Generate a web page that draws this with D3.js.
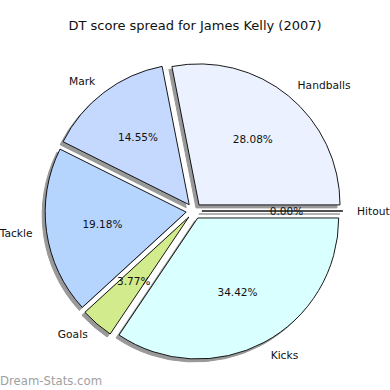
<!DOCTYPE html>
<html><head><meta charset="utf-8">
<script src="https://cdn.jsdelivr.net/npm/d3@7"></script>
<style>body{margin:0;background:#fff}svg{display:block}text{font-family:"DejaVu Sans",sans-serif}</style>
</head><body><svg id="c" width="390" height="390"></svg>
<script>
const categories = ["Handballs","Mark","Tackle","Goals","Kicks","Hitout"];
const values = [28.08,14.55,19.18,3.77,34.42,0.00];
const colors = ["#EBF1FF","#C5D9FF","#B5D5FF","#D1EB8D","#D9FFFF","#FFFFFF"];
const title = "DT score spread for James Kelly (2007)";

const svg = d3.select("#c");
const cx = 194, cy = 211, R = 141, explode = 0.056 * R;
const shadowDx = -3, shadowDy = 3;

const pie = d3.pie().sort(null).value(d => d).startAngle(Math.PI/2).endAngle(Math.PI/2 - 2*Math.PI);
const arcs = pie(values);
const arc = d3.arc().innerRadius(0).outerRadius(R);

svg.append("text").attr("x", 195).attr("y", 30).attr("text-anchor","middle")
  .attr("font-size", 13).attr("fill","#111").text(title);

const g = svg.append("g").attr("transform", `translate(${cx},${cy})`);

const items = arcs.map((a,i) => {
  const mid = (a.startAngle + a.endAngle)/2;
  return {a, i, mid, ox: explode*Math.sin(mid), oy: -explode*Math.cos(mid)};
});

items.forEach(it => {
  const grp = g.append("g").attr("transform", `translate(${it.ox},${it.oy})`);
  grp.append("path").attr("d", arc(it.a)).attr("transform", `translate(${shadowDx},${shadowDy})`)
    .attr("fill", "#999").attr("stroke", "#999").attr("stroke-width", 1);
  grp.append("path").attr("d", arc(it.a)).attr("fill", colors[it.i])
    .attr("stroke", "#000").attr("stroke-width", 0.9).attr("stroke-linejoin","round");
});

items.forEach(it => {
  const c = Math.sin(it.mid), s = -Math.cos(it.mid);
  const lx = it.ox + 1.1*R*c, ly = it.oy + 1.1*R*s;
  g.append("text").attr("x", lx).attr("y", ly).attr("dy","0.35em")
    .attr("text-anchor", c >= -1e-9 ? "start" : "end").attr("font-size", 10.7).attr("fill","#111")
    .text(categories[it.i]);
  const px = it.ox + 0.6*R*c, py = it.oy + 0.6*R*s;
  g.append("text").attr("x", px).attr("y", py).attr("dy","0.35em").attr("text-anchor","middle")
    .attr("font-size", 10.5).attr("fill","#111").text(values[it.i].toFixed(2) + "%");
});

svg.append("text").attr("x", 0).attr("y", 385).attr("font-size", 11.7).attr("fill","#a0a0a0")
  .text("Dream-Stats.com");
</script></body></html>
